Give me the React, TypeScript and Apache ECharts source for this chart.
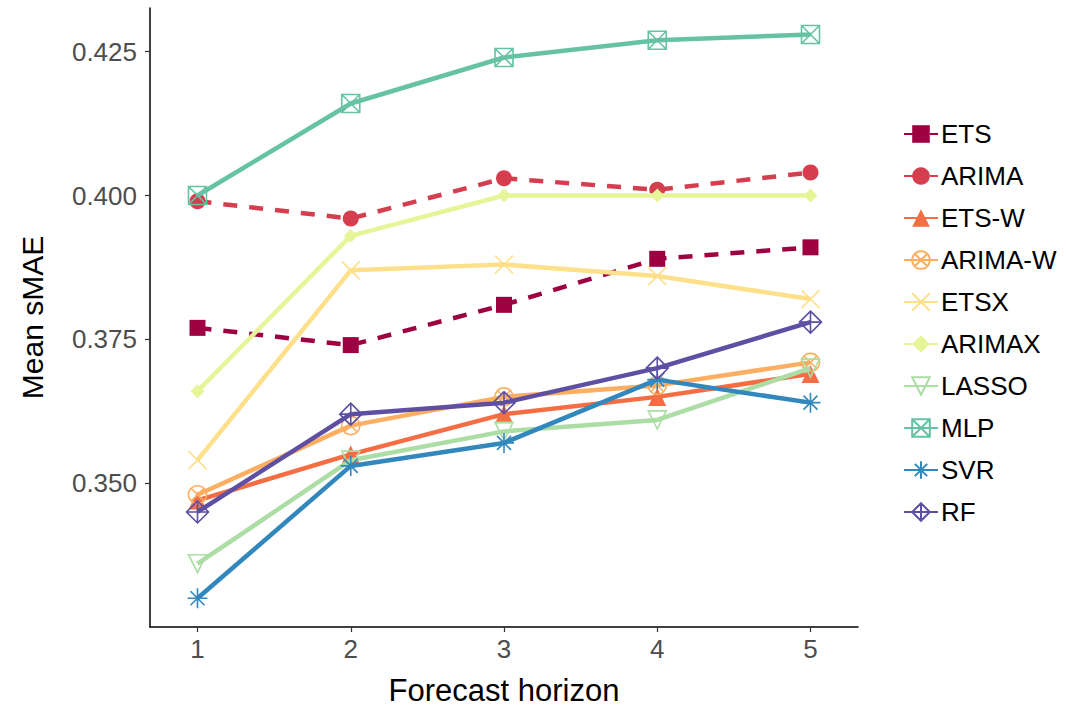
import React, { useEffect, useRef } from "react";
import * as echarts from "echarts";

const horizons = [1, 2, 3, 4, 5];
const seriesNames = ["ETS", "ARIMA", "ETS-W", "ARIMA-W", "ETSX", "ARIMAX", "LASSO", "MLP", "SVR", "RF"];
const ets = [0.377, 0.374, 0.381, 0.389, 0.391];
const arima = [0.399, 0.396, 0.403, 0.401, 0.404];
const etsW = [0.347, 0.355, 0.362, 0.365, 0.369];
const arimaW = [0.348, 0.36, 0.365, 0.367, 0.371];
const etsx = [0.354, 0.387, 0.388, 0.386, 0.382];
const arimax = [0.366, 0.393, 0.4, 0.4, 0.4];
const lasso = [0.336, 0.354, 0.359, 0.361, 0.37];
const mlp = [0.4, 0.416, 0.424, 0.427, 0.428];
const svr = [0.33, 0.353, 0.357, 0.368, 0.364];
const rf = [0.345, 0.362, 0.364, 0.37, 0.378];
const yTicks = [0.35, 0.375, 0.4, 0.425];

const values = [ets, arima, etsW, arimaW, etsx, arimax, lasso, mlp, svr, rf];
const colors = ["#9E0142", "#D53E4F", "#F46D43", "#FDAE61", "#FEE08B", "#E6F598", "#ABDDA4", "#66C2A5", "#3288BD", "#5E4FA2"];
const dashed = [true, true, false, false, false, false, false, false, false, false];
const symbols = [
  "rect",
  "circle",
  "triangle",
  "path://M10 1 A9 9 0 1 1 9.99 1 Z M3.6 3.6 L16.4 16.4 M16.4 3.6 L3.6 16.4",
  "path://M0 0 L20 20 M20 0 L0 20",
  "diamond",
  "path://M0 1 L20 1 L10 19 Z",
  "path://M1 1 L19 1 L19 19 L1 19 Z M1 1 L19 19 M19 1 L1 19",
  "path://M10 0 L10 20 M0 10 L20 10 M3 3 L17 17 M17 3 L3 17",
  "path://M10 0 L20 10 L10 20 L0 10 Z M10 0 L10 20 M0 10 L20 10",
];
const filled = [true, true, true, false, false, true, false, false, false, false];
const sizes = [16, 16, 18, 18, 18, 14, 18, 18, 20, 22];

export default function App() {
  const ref = useRef<HTMLDivElement>(null);
  useEffect(() => {
    if (!ref.current) return;
    const chart = echarts.init(ref.current, null, { renderer: "svg" });
    const font = "'Liberation Sans', Arial, sans-serif";
    chart.setOption({
      animation: false,
      backgroundColor: "#ffffff",
      textStyle: { fontFamily: font },
      grid: { left: 150, right: 208, top: 8, bottom: 83, containLabel: false },
      legend: {
        orient: "vertical",
        left: 898,
        top: 116,
        itemWidth: 34,
        itemHeight: 22,
        itemGap: 16,
        textStyle: { fontSize: 26, color: "#000", fontFamily: font, padding: [0, 0, 0, -2] },
        data: seriesNames,
      },
      xAxis: {
        type: "value",
        min: 0.69,
        max: 5.31,
        name: "Forecast horizon",
        nameLocation: "middle",
        nameGap: 48,
        nameTextStyle: { fontSize: 31, color: "#000", fontFamily: font },
        axisLine: { show: true, lineStyle: { color: "#000", width: 1.5 } },
        axisTick: { show: true, length: 5, lineStyle: { color: "#333", width: 1.2 }, customValues: horizons },
        axisLabel: { fontSize: 26, color: "#4d4d4d", margin: 9, fontFamily: font, customValues: horizons },
        splitLine: { show: false },
      },
      yAxis: {
        type: "value",
        min: 0.325,
        max: 0.4326,
        name: "Mean sMAE",
        nameLocation: "middle",
        nameGap: 103,
        nameTextStyle: { fontSize: 30, color: "#000", fontFamily: font },
        axisLine: { show: true, lineStyle: { color: "#000", width: 1.5 } },
        axisTick: { show: true, length: 5, lineStyle: { color: "#333", width: 1.2 }, customValues: yTicks },
        axisLabel: {
          fontSize: 26,
          color: "#4d4d4d",
          margin: 13,
          fontFamily: font,
          customValues: yTicks,
          formatter: (v: number) => v.toFixed(3),
        },
        splitLine: { show: false },
      },
      series: seriesNames.map((name, i) => ({
        name,
        type: "line",
        data: horizons.map((h, j) => [h, values[i][j]]),
        symbol: symbols[i],
        symbolSize: sizes[i],
        showSymbol: true,
        lineStyle: { color: colors[i], width: 4.5, type: dashed[i] ? [14, 12] : "solid" },
        itemStyle: filled[i]
          ? { color: colors[i], borderColor: colors[i], borderWidth: 0 }
          : { color: "rgba(255,255,255,0)", borderColor: colors[i], borderWidth: 1.6 },
        emphasis: { disabled: true },
        z: 2 + i,
      })),
    });
    return () => chart.dispose();
  }, []);
  return (
    <div
      ref={ref}
      style={{ position: "fixed", left: 0, top: 0, width: 1066, height: 711, background: "#fff" }}
    />
  );
}
